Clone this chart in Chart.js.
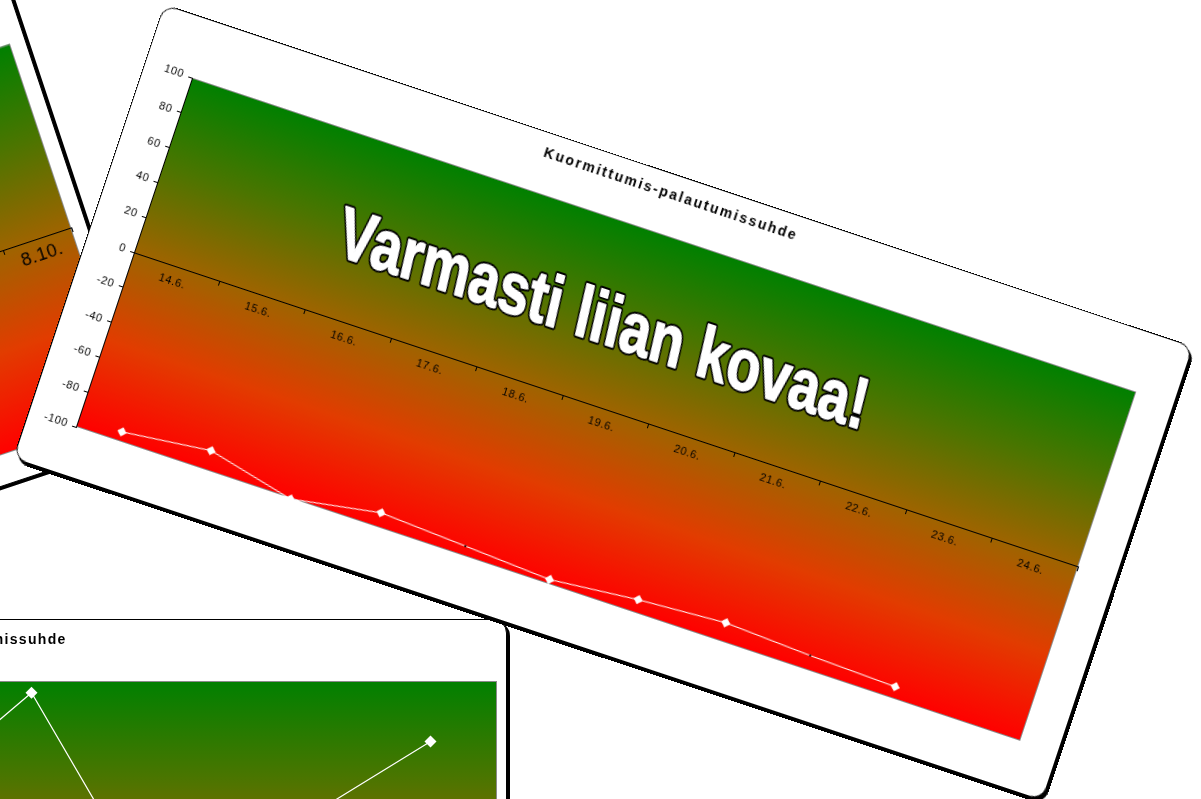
<!DOCTYPE html>
<html>
<head>
<meta charset="utf-8">
<script src="https://cdn.jsdelivr.net/npm/chart.js@4/dist/chart.umd.min.js"></script>
<style>
  html, body { margin: 0; padding: 0; background: #fff; width: 1201px; height: 799px; overflow: hidden; }
  .card {
    position: absolute;
    box-sizing: border-box;
    background: #fff;
    border: 1px solid #000;
    border-radius: 14px;
    box-shadow: 3px 3px 0 #000;
    overflow: hidden;
  }
  .card canvas { position: absolute; left: -1px; top: -1px; }
  #octoberCard { left: -543.5px; top: -45.2px; width: 700px; height: 480px; transform-origin: 100% 100%; transform: rotate(-18.4deg); }
  #earlierCard { left: -639px; top: 619px; width: 1146px; height: 502px; }
  #mainCard { left: 163.9px; top: 4.3px; width: 1085px; height: 479px; transform-origin: 0 0; transform: rotate(18.4deg); }
</style>
</head>
<body>
<div class="card" id="octoberCard"><canvas id="octoberChart" width="700" height="480"></canvas></div>
<div class="card" id="earlierCard"><canvas id="earlierChart" width="1146" height="502"></canvas></div>
<div class="card" id="mainCard"><canvas id="mainChart" width="1085" height="479"></canvas></div>
<script>
// ---- data -------------------------------------------------------------
const chartTitle = 'Kuormittumis-palautumissuhde';
const verdict = 'Varmasti liian kovaa!';

const ratioTicks = [-100, -80, -60, -40, -20, 0, 20, 40, 60, 80, 100];

// current fortnight (front card)
const juneLabels = ['14.6.', '15.6.', '16.6.', '17.6.', '18.6.', '19.6.', '20.6.', '21.6.', '22.6.', '23.6.', '24.6.'];
const juneRatio = [-94.7, -89.1, -100.4, -92.0, -94.7, -97.5, -92.7, -89.6, -92.0, -93.5, null];
const juneUnmarked = ['18.6.', '22.6.'];

// previous week (card underneath)
const earlierLabels = ['6.6.', '7.6.', '8.6.', '9.6.', '10.6.', '11.6.', '12.6.', '13.6.'];
const earlierRatio = [null, null, null, 36, 94, -23, 27, 69];

// October sheet (card in the back)
const octoberLabels = ['1.10.', '2.10.', '3.10.', '4.10.', '5.10.', '6.10.', '7.10.', '8.10.'];

// ---- shared look ------------------------------------------------------
Chart.defaults.font.family = '"Liberation Sans", Arial, sans-serif';
Chart.defaults.color = '#000';

const plotStops = [
  [0.00, 'rgb(0,128,0)'],
  [0.25, 'rgb(75,117,0)'],
  [0.50, 'rgb(158,100,0)'],
  [0.75, 'rgb(226,60,0)'],
  [1.00, 'rgb(255,0,0)']
];

// green-to-red plot background with a thin grey frame
const plotFill = {
  id: 'plotFill',
  beforeDraw(chart, args, opts) {
    const { ctx, chartArea: a } = chart;
    ctx.letterSpacing = opts.tickSpacing || '0.6px';
    const g = ctx.createLinearGradient(0, a.top, 0, a.bottom);
    plotStops.forEach(([o, c]) => g.addColorStop(o, c));
    ctx.save();
    ctx.fillStyle = g;
    ctx.fillRect(a.left, a.top, a.right - a.left, a.bottom - a.top);
    ctx.strokeStyle = '#8a8a8a';
    ctx.lineWidth = 1;
    ctx.strokeRect(a.left + 0.5, a.top + 0.5, a.right - a.left - 1, a.bottom - a.top - 1);
    ctx.restore();
  }
};

// spaced-out bold heading above the plot
const cardTitle = {
  id: 'cardTitle',
  afterDraw(chart, args, opts) {
    if (!opts.text) return;
    const ctx = chart.ctx;
    ctx.save();
    ctx.font = 'bold 14px "Liberation Sans", Arial, sans-serif';
    ctx.letterSpacing = opts.spacing || '2px';
    ctx.fillStyle = '#000';
    ctx.textAlign = 'center';
    ctx.textBaseline = 'middle';
    ctx.fillText(opts.text, opts.x, opts.y);
    ctx.restore();
  }
};

// big outlined slogan across the plot
const verdictText = {
  id: 'verdictText',
  afterDraw(chart, args, opts) {
    if (!opts.text) return;
    const ctx = chart.ctx;
    ctx.save();
    ctx.font = 'bold ' + opts.size + 'px "Liberation Sans", Arial, sans-serif';
    ctx.letterSpacing = '0px';
    const natural = ctx.measureText(opts.text).width;
    ctx.translate(opts.x, opts.y);
    ctx.transform(1, 0, opts.slant, 1, 0, 0);
    ctx.scale(opts.width / natural, 1);
    ctx.textAlign = 'left';
    ctx.textBaseline = 'alphabetic';
    ctx.lineJoin = 'round';
    ctx.lineWidth = opts.outline;
    ctx.strokeStyle = '#000';
    ctx.strokeText(opts.text, 0, 0);
    ctx.lineWidth = opts.thicken;
    ctx.strokeStyle = '#fff';
    ctx.strokeText(opts.text, 0, 0);
    ctx.fillStyle = '#fff';
    ctx.fillText(opts.text, 0, 0);
    ctx.restore();
  }
};

function ratioScales(cfg) {
  return {
    y: {
      min: -100, max: 100,
      afterBuildTicks: s => { s.ticks = ratioTicks.map(v => ({ value: v })); },
      afterFit: s => { s.width = cfg.axisWidth; },
      grid: { drawOnChartArea: false, drawTicks: true, tickLength: 4, color: '#000' },
      border: { display: true, color: '#000', width: 1 },
      ticks: { padding: 5, font: { size: cfg.fontSize }, color: '#000' }
    },
    x: {
      type: 'category',
      offset: true,
      position: { y: 0 },
      grid: { offset: true, drawOnChartArea: false, drawTicks: true, tickLength: 4, color: '#000' },
      border: { display: true, color: '#000', width: 1 },
      ticks: { padding: cfg.xPad, maxRotation: 0, autoSkip: false, font: { size: cfg.fontSize }, color: '#000' }
    }
  };
}

function baseOptions(cfg) {
  return {
    responsive: false,
    animation: false,
    devicePixelRatio: 1,
    layout: { padding: cfg.padding },
    scales: ratioScales(cfg),
    plugins: {
      legend: { display: false },
      tooltip: { enabled: false },
      title: { display: false },
      cardTitle: cfg.title || {},
      verdictText: cfg.verdict || {},
      plotFill: {}
    }
  };
}

// ---- October sheet (back) ----------------------------------------------
new Chart(document.getElementById('octoberChart'), {
  type: 'line',
  data: { labels: octoberLabels, datasets: [] },
  options: baseOptions({
    axisWidth: 108, fontSize: 18, xPad: 2,
    padding: { top: 62.4, right: 16, bottom: 30, left: 0 }
  }),
  plugins: [plotFill, cardTitle, verdictText]
});

// ---- previous week (middle) -------------------------------------------
new Chart(document.getElementById('earlierChart'), {
  type: 'line',
  data: {
    labels: earlierLabels,
    datasets: [{
      data: earlierRatio,
      borderColor: '#fff',
      borderWidth: 1.2,
      pointStyle: 'rectRot',
      pointRadius: 6,
      pointBackgroundColor: '#fff',
      pointBorderColor: '#fff',
      pointBorderWidth: 0,
      spanGaps: true
    }]
  },
  options: baseOptions({
    axisWidth: 72, fontSize: 12, xPad: 5,
    padding: { top: 62, right: 10, bottom: 50, left: 0 },
    title: { text: chartTitle, x: 582, y: 21, spacing: '1.3px' }
  }),
  plugins: [plotFill, cardTitle, verdictText]
});

// ---- current fortnight (front) -----------------------------------------
new Chart(document.getElementById('mainChart'), {
  type: 'line',
  data: {
    labels: juneLabels,
    datasets: [{
      data: juneRatio,
      borderColor: '#fff',
      borderWidth: 1,
      pointStyle: 'rectRot',
      pointRadius: c => juneUnmarked.includes(juneLabels[c.dataIndex]) ? 1.3 : 4.8,
      pointBackgroundColor: c => juneUnmarked.includes(juneLabels[c.dataIndex]) ? '#000' : '#fff',
      pointBorderColor: c => juneUnmarked.includes(juneLabels[c.dataIndex]) ? '#000' : '#fff',
      pointBorderWidth: 0,
      spanGaps: true
    }]
  },
  options: baseOptions({
    axisWidth: 50, fontSize: 11, xPad: 5,
    padding: { top: 61, right: 40, bottom: 50, left: 0 },
    title: { text: chartTitle, x: 541, y: 21 },
    verdict: { text: verdict, x: 241, y: 184, size: 72, width: 556, slant: 0.1, outline: 5.5, thicken: 1.6 }
  }),
  plugins: [plotFill, cardTitle, verdictText]
});
</script>
</body>
</html>
